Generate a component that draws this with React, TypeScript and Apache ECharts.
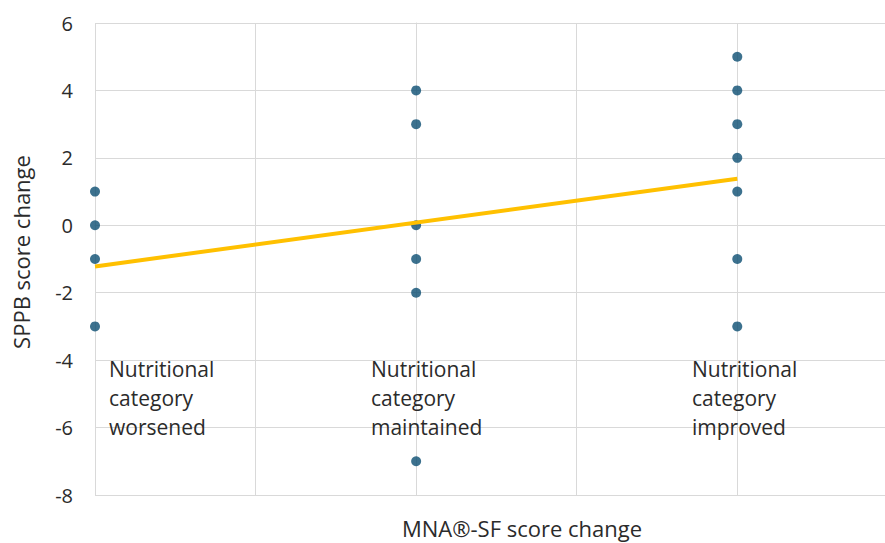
import React, { useEffect, useRef } from "react";
import * as echarts from "echarts";

// x positions of the three MNA-SF categories
const categoryX = [-1, 0, 1];
const categoryLabels = [
  "Nutritional\ncategory\nworsened",
  "Nutritional\ncategory\nmaintained",
  "Nutritional\ncategory\nimproved",
];
const worsenedValues = [1, 0, -1, -3];
const maintainedValues = [4, 3, 0, -1, -2, -7];
const improvedValues = [5, 4, 3, 2, 1, -1, -3];
const trendX = [-1, 1];
const trendY = [-1.22, 1.38];
const yTicks = { min: -8, max: 6, interval: 2 };

export default function App() {
  const ref = useRef<HTMLDivElement>(null);
  useEffect(() => {
    if (!ref.current) return;
    const chart = echarts.init(ref.current, undefined, { renderer: "svg" });
    const groups = [worsenedValues, maintainedValues, improvedValues];
    const points: number[][] = [];
    groups.forEach((vals, i) => vals.forEach((v) => points.push([categoryX[i], v])));
    const font = "'Open Sans', sans-serif";
    const textColor = "#2b2b2b";
    chart.setOption({
      animation: false,
      grid: { left: 95, right: 0, top: 23, bottom: 48 },
      xAxis: {
        type: "value",
        min: -1,
        max: 1.46,
        interval: 0.5,
        axisLabel: { show: false },
        axisTick: { show: false },
        axisLine: { show: true, lineStyle: { color: "#d9d9d9" } },
        splitLine: { show: true, lineStyle: { color: "#d9d9d9", width: 1 } },
      },
      yAxis: {
        type: "value",
        min: yTicks.min,
        max: yTicks.max,
        interval: yTicks.interval,
        axisLabel: { color: textColor, fontSize: 20, fontFamily: font, margin: 22 },
        axisTick: { show: false },
        axisLine: { show: true, lineStyle: { color: "#d9d9d9" } },
        splitLine: { show: true, lineStyle: { color: "#d9d9d9", width: 1 } },
      },
      series: [
        {
          type: "line",
          data: trendX.map((x, i) => [x, trendY[i]]),
          symbol: "none",
          lineStyle: { color: "#FFC000", width: 4 },
          z: 3,
        },
        {
          type: "scatter",
          data: points,
          symbol: "circle",
          symbolSize: 10,
          itemStyle: { color: "#0b4d72" },
          z: 2,
        },
      ],
      graphic: [
        {
          type: "text",
          x: 21,
          y: 252,
          rotation: Math.PI / 2,
          style: {
            text: "SPPB score change",
            fill: textColor,
            font: `22px ${font}`,
            align: "center",
            verticalAlign: "middle",
          },
        },
        {
          type: "text",
          x: 522,
          y: 528,
          style: {
            text: "MNA®-SF score change",
            fill: textColor,
            font: `22px ${font}`,
            align: "center",
            verticalAlign: "middle",
          },
        },
        ...categoryLabels.map((t, i) => ({
          type: "text",
          x: [109, 371, 692][i],
          y: 354,
          z: 10,
          style: {
            text: t,
            fill: textColor,
            font: `21px ${font}`,
            lineHeight: 29,
            align: "left",
            verticalAlign: "top",
          },
        })),
      ],
    });
    return () => chart.dispose();
  }, []);
  return <div ref={ref} style={{ width: 885, height: 543, position: "absolute", left: 0, top: 0 }} />;
}
